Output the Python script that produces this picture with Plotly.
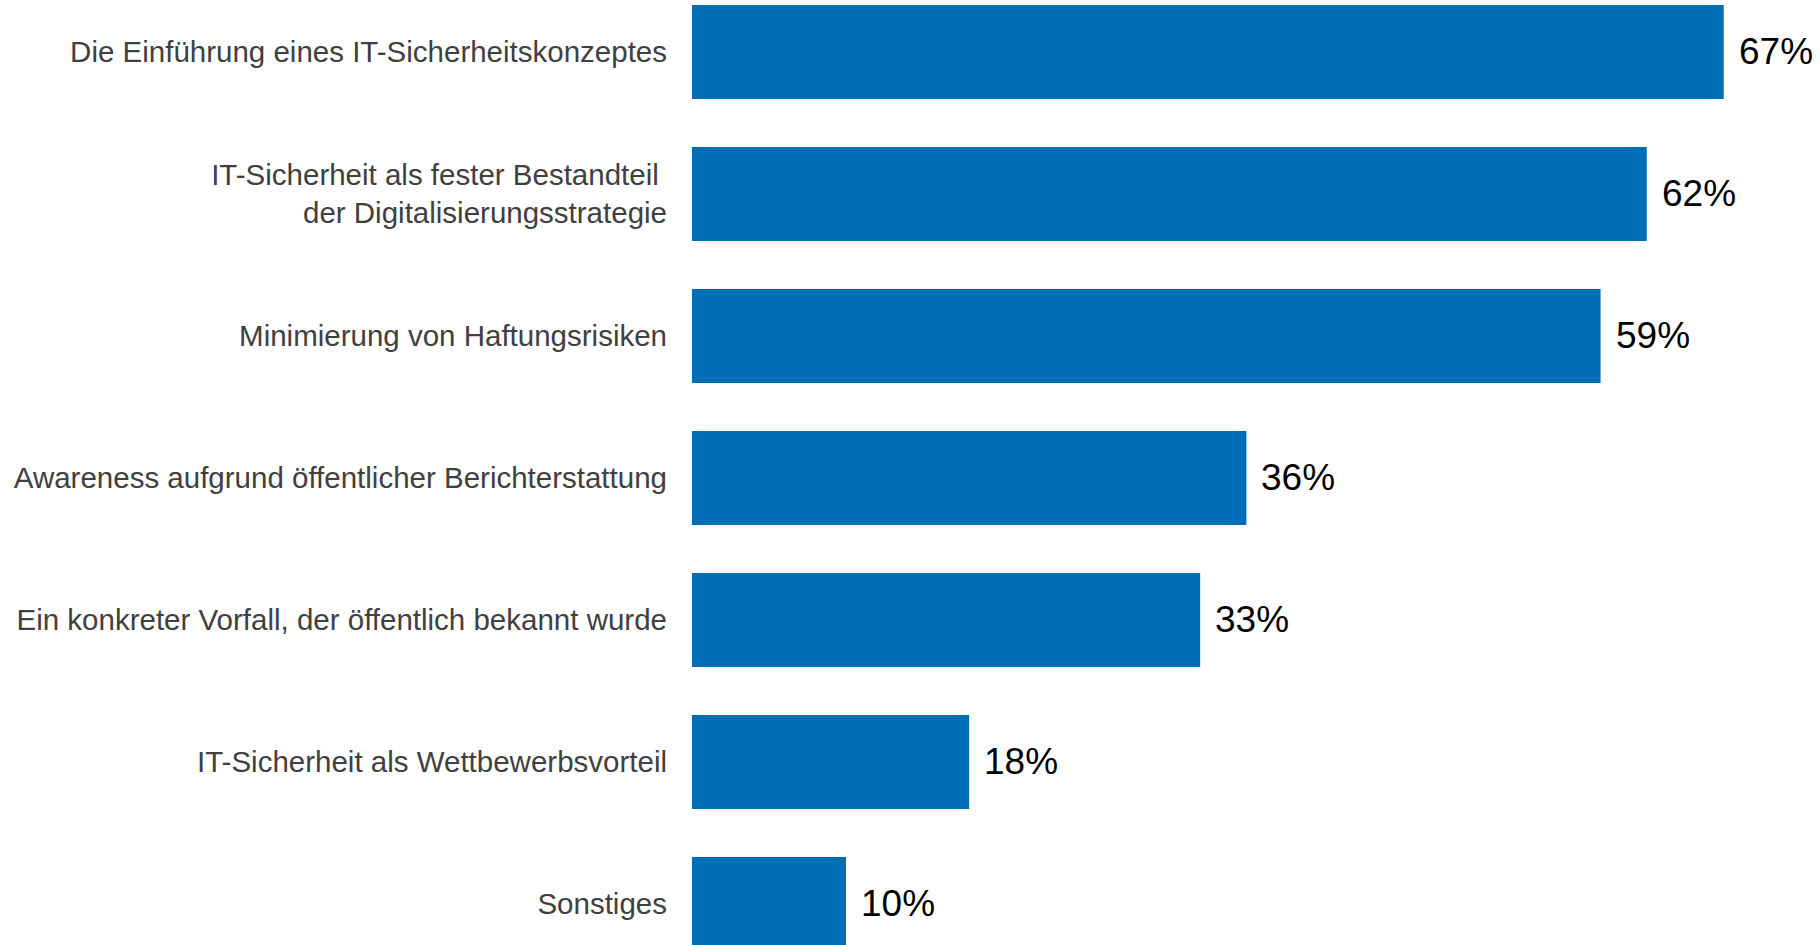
import plotly.graph_objects as go

categories = [
    "Die Einführung eines IT-Sicherheitskonzeptes",
    "IT-Sicherheit als fester Bestandteil <br>der Digitalisierungsstrategie",
    "Minimierung von Haftungsrisiken",
    "Awareness aufgrund öffentlicher Berichterstattung",
    "Ein konkreter Vorfall, der öffentlich bekannt wurde",
    "IT-Sicherheit als Wettbewerbsvorteil",
    "Sonstiges",
]
values = [67, 62, 59, 36, 33, 18, 10]
value_labels = ["67%", "62%", "59%", "36%", "33%", "18%", "10%"]

BAR_COLOR = "#006EB6"
LABEL_COLOR = "#404040"
FONT = "Liberation Sans, Arial, sans-serif"

fig = go.Figure()
fig.add_trace(go.Bar(
    x=values,
    y=categories,
    orientation="h",
    marker=dict(color=BAR_COLOR, line=dict(width=0)),
    hoverinfo="skip",
    showlegend=False,
))

for cat, v, lab in zip(categories, values, value_labels):
    fig.add_annotation(
        x=v, y=cat, text=lab, showarrow=False,
        xanchor="left", yanchor="middle", xshift=13,
        font=dict(family=FONT, size=37, color="#000000"),
    )

fig.update_layout(
    width=1820, height=945,
    margin=dict(l=692, r=0, t=0, b=0),
    paper_bgcolor="white", plot_bgcolor="white",
    bargap=0.338,
    xaxis=dict(range=[0, 73.25], visible=False, fixedrange=True),
    yaxis=dict(
        type="category",
        categoryorder="array", categoryarray=categories,
        range=[6.289, -0.366],
        showgrid=False, zeroline=False, showline=False,
        ticks="", ticklabelstandoff=24, fixedrange=True,
        tickfont=dict(family=FONT, size=29.5, color=LABEL_COLOR),
    ),
)

fig.write_html(
    "out.html",
    config={"displayModeBar": False, "staticPlot": True},
    post_script="document.body.style.margin='0';document.body.style.overflow='hidden';",
)
